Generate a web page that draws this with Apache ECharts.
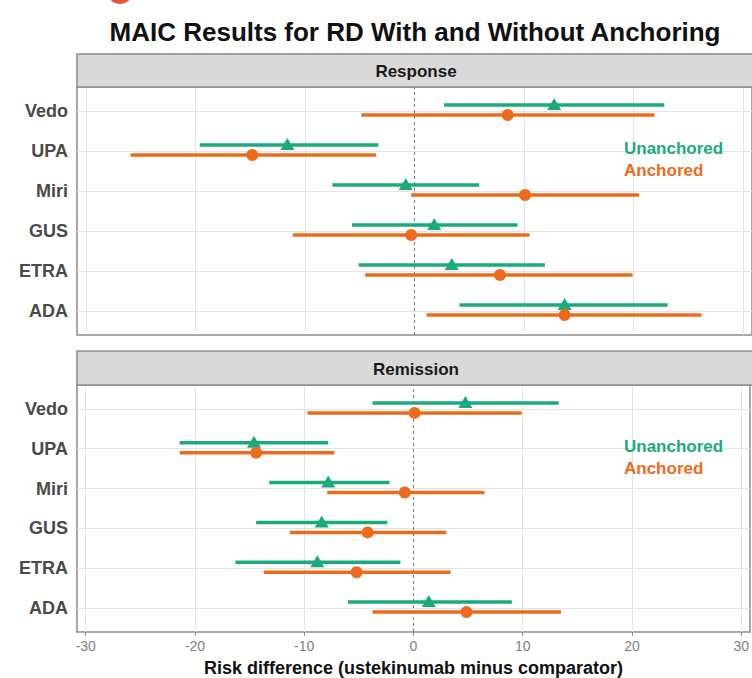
<!DOCTYPE html>
<html><head><meta charset="utf-8">
<script src="https://cdn.jsdelivr.net/npm/echarts@6/dist/echarts.min.js"></script>
<style>html,body{margin:0;padding:0;background:#fff}#c{width:752px;height:678px}</style>
</head><body><div id="c"></div>
<script>
// Categories bottom-to-top (ggplot order)
const categories = ['ADA', 'ETRA', 'GUS', 'Miri', 'UPA', 'Vedo'];
const panels = ['Response', 'Remission'];
const seriesNames = ['Unanchored', 'Anchored'];
const xTicks = [-30, -20, -10, 0, 10, 20, 30];
const xGrid = [-30, -20, -10, 10, 20, 30];

// Response
const respUnEst = [13.7, 3.4, 1.8, -0.8, -11.6, 12.75];
const respUnLo  = [4.1, -5.1, -5.7, -7.5, -19.6, 2.7];
const respUnHi  = [23.1, 11.9, 9.4, 5.9, -3.3, 22.8];
const respAnEst = [13.7, 7.8, -0.3, 10.1, -14.8, 8.5];
const respAnLo  = [1.1, -4.5, -11.1, -0.3, -25.9, -4.85];
const respAnHi  = [26.2, 19.9, 10.5, 20.5, -3.5, 21.9];
// Remission
const remUnEst = [1.4, -8.8, -8.4, -7.8, -14.6, 4.75];
const remUnLo  = [-6.0, -16.3, -14.4, -13.2, -21.4, -3.75];
const remUnHi  = [9.0, -1.2, -2.4, -2.2, -7.8, 13.3];
const remAnEst = [4.85, -5.2, -4.2, -0.8, -14.4, 0.1];
const remAnLo  = [-3.75, -13.7, -11.3, -7.9, -21.4, -9.7];
const remAnHi  = [13.5, 3.4, 3.0, 6.5, -7.25, 9.9];

const GREEN = '#1AAA7E';
const ORANGE = '#EF6B1C';
const FONT = 'Liberation Sans, Arial, sans-serif';
const BORDER = '#8C8C8C';

const panelData = [
  {un: [respUnEst, respUnLo, respUnHi], an: [respAnEst, respAnLo, respAnHi]},
  {un: [remUnEst, remUnLo, remUnHi], an: [remAnEst, remAnLo, remAnHi]}
];
const dodge = {Unanchored: 0.15, Anchored: -0.1};
const catPos = categories.map((c, i) => i + 1);

function barItem(params, api) {
  const a = api.coord([api.value(0), api.value(2)]);
  const b = api.coord([api.value(1), api.value(2)]);
  return {type: 'line', shape: {x1: a[0], y1: a[1], x2: b[0], y2: b[1]},
    style: {stroke: api.visual('color'), lineWidth: 3.5, lineCap: 'butt'}};
}

const gridTops = [87, 385];
const grids = gridTops.map(t => ({left: 77, top: t, width: 679, height: 248, show: true,
  borderColor: BORDER, borderWidth: 1.5, backgroundColor: '#fff'}));

const xAxes = [0, 1].map(i => ({
  type: 'value', gridIndex: i, min: -30.8, max: 30.8,
  axisLine: {show: false}, splitLine: {show: false},
  axisTick: {show: i === 1, customValues: xTicks, length: 4, lineStyle: {color: BORDER, width: 1}},
  axisLabel: {show: i === 1, customValues: xTicks, color: '#7F7F7F', fontSize: 14, fontFamily: FONT, margin: 7},
  name: i === 1 ? 'Risk difference (ustekinumab minus comparator)' : '',
  nameLocation: 'middle', nameGap: 27,
  nameTextStyle: {fontSize: 18, fontWeight: 'bold', color: '#111', fontFamily: FONT}
}));

const yAxes = [0, 1].map(i => ({
  type: 'value', gridIndex: i, min: 0.4, max: 6.6,
  axisLine: {show: false}, splitLine: {show: false},
  axisTick: {show: true, customValues: catPos, length: 5, lineStyle: {color: BORDER, width: 1}},
  axisLabel: {customValues: catPos, formatter: v => categories[Math.round(v) - 1],
    color: '#4A4A4A', fontWeight: 'bold', fontSize: 18, fontFamily: FONT, margin: 9}
}));

const series = [];
panelData.forEach((pd, i) => {
  [['Unanchored', pd.un, GREEN, 'triangle'], ['Anchored', pd.an, ORANGE, 'circle']].forEach(([name, arr, color, sym], k) => {
    const [est, lo, hi] = arr;
    const bars = categories.map((c, j) => [lo[j], hi[j], catPos[j] + dodge[name]]);
    const s = {
      type: 'custom', name: name, xAxisIndex: i, yAxisIndex: i, z: 3,
      itemStyle: {color: color}, renderItem: barItem, data: bars,
      encode: {x: [0, 1], y: 2}, silent: true
    };
    if (k === 0) {
      s.markLine = {
        silent: true, z: 1, symbol: ['none', 'none'], label: {show: false},
        lineStyle: {color: '#E4E4E4', width: 1, type: 'solid'},
        data: xGrid.map(v => ({xAxis: v})).concat(catPos.map(v => ({yAxis: v}))).concat([
          {xAxis: 0, lineStyle: {color: '#777', width: 1, type: [3, 3]}}
        ])
      };
    }
    series.push(s);
    series.push({
      type: 'scatter', name: name, xAxisIndex: i, yAxisIndex: i, z: 4,
      symbol: sym, symbolSize: sym === 'triangle' ? [14, 12] : 12,
      symbolOffset: sym === 'triangle' ? [0, -1] : [0, 0],
      itemStyle: {color: color, opacity: 1}, silent: true,
      data: categories.map((c, j) => [est[j], catPos[j] + dodge[name]])
    });
  });
});

const graphics = [
  {type: 'circle', z: 20, shape: {cx: 120, cy: -9, r: 13}, style: {fill: '#E8543A'}},
  {type: 'text', z: 20, x: 415, y: 32, style: {text: 'MAIC Results for RD With and Without Anchoring',
    font: 'bold 26px ' + FONT, fill: '#111', textAlign: 'center', textVerticalAlign: 'middle'}}
];
const stripTops = [54, 351];
panels.forEach((p, i) => {
  const h = gridTops[i] - stripTops[i];
  graphics.push({type: 'rect', z: 20, shape: {x: 77, y: stripTops[i], width: 679, height: h},
    style: {fill: '#D9D9D9', stroke: BORDER, lineWidth: 1.5}});
  graphics.push({type: 'text', z: 21, x: 416, y: stripTops[i] + h / 2 + 1, style: {text: p,
    font: 'bold 17px ' + FONT, fill: '#1A1A1A', textAlign: 'center', textVerticalAlign: 'middle'}});
  const base = gridTops[i] + 61;
  graphics.push({type: 'text', z: 21, x: 624, y: base, style: {text: seriesNames[0],
    font: 'bold 17px ' + FONT, fill: GREEN, textAlign: 'left', textVerticalAlign: 'middle'}});
  graphics.push({type: 'text', z: 21, x: 624, y: base + 22, style: {text: seriesNames[1],
    font: 'bold 17px ' + FONT, fill: ORANGE, textAlign: 'left', textVerticalAlign: 'middle'}});
});

const chart = echarts.init(document.getElementById('c'), null, {renderer: 'svg'});
chart.setOption({
  animation: false,
  backgroundColor: '#fff',
  grid: grids, xAxis: xAxes, yAxis: yAxes, series: series,
  graphic: graphics
});
</script>
</body></html>
